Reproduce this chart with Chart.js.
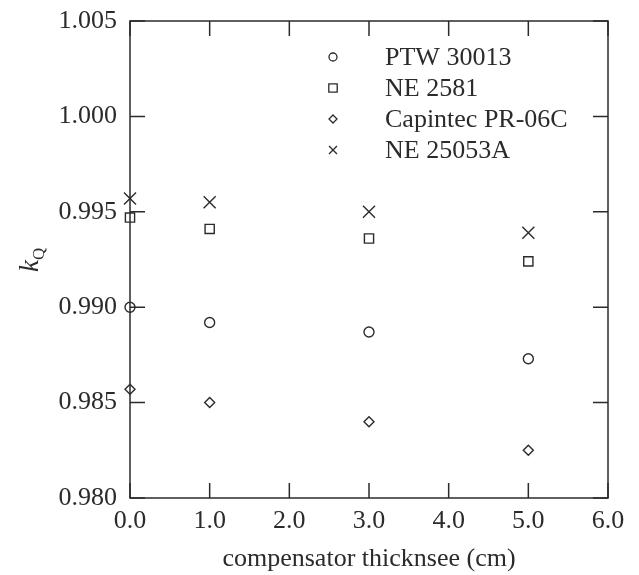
<!DOCTYPE html>
<html>
<head>
<meta charset="utf-8">
<script src="https://cdn.jsdelivr.net/npm/chart.js@4.4.1/dist/chart.umd.min.js"></script>
<style>
  html, body { margin: 0; padding: 0; background: #fff; }
  #wrap { width: 639px; height: 575px; }
</style>
</head>
<body>
<div id="wrap"><canvas id="kqChart" width="639" height="575"></canvas></div>
<script>
// data
const thickness = [0, 1, 3, 5];
const ptw30013 = [0.9900, 0.9892, 0.9887, 0.9873];
const ne2581 = [0.9947, 0.9941, 0.9936, 0.9924];
const capintec = [0.9857, 0.9850, 0.9840, 0.9825];
const ne25053a = [0.9957, 0.9955, 0.9950, 0.9939];

const seriesNames = ['PTW 30013', 'NE 2581', 'Capintec PR-06C', 'NE 25053A'];
const xTicks = [0, 1, 2, 3, 4, 5, 6];
const yTicks = [0.980, 0.985, 0.990, 0.995, 1.000, 1.005];

const ink = '#2b2b2b';
const serif = "'Liberation Serif', 'DejaVu Serif', serif";

function pts(ys) {
  return thickness.map((x, i) => ({ x: x, y: ys[i] }));
}

const styles = [
  { pointStyle: 'circle', radius: 5 },
  { pointStyle: 'rect', radius: 6.5 },
  { pointStyle: 'rectRot', radius: 5 },
  { pointStyle: 'crossRot', radius: 8.5 }
];
const allSeries = [ptw30013, ne2581, capintec, ne25053a];

// small marker drawer for the in-plot legend
function marker(ctx, style, x, y, r) {
  ctx.beginPath();
  if (style === 'circle') {
    ctx.arc(x, y, r, 0, Math.PI * 2);
  } else if (style === 'rect') {
    ctx.rect(x - r, y - r, 2 * r, 2 * r);
  } else if (style === 'rectRot') {
    ctx.moveTo(x, y - r); ctx.lineTo(x + r, y); ctx.lineTo(x, y + r); ctx.lineTo(x - r, y); ctx.closePath();
  } else {
    ctx.moveTo(x - r, y - r); ctx.lineTo(x + r, y + r);
    ctx.moveTo(x + r, y - r); ctx.lineTo(x - r, y + r);
  }
  ctx.stroke();
}

const framePlugin = {
  id: 'frame',
  beforeDatasetsDraw(chart) {
    const { ctx, chartArea: a, scales } = chart;
    const tl = 15;
    ctx.save();
    ctx.strokeStyle = ink;
    ctx.lineWidth = 1.5;
    ctx.strokeRect(a.left, a.top, a.right - a.left, a.bottom - a.top);
    ctx.beginPath();
    xTicks.forEach(v => {
      const px = scales.x.getPixelForValue(v);
      ctx.moveTo(px, a.bottom); ctx.lineTo(px, a.bottom - tl);
      ctx.moveTo(px, a.top); ctx.lineTo(px, a.top + tl);
    });
    yTicks.forEach(v => {
      const py = scales.y.getPixelForValue(v);
      ctx.moveTo(a.left, py); ctx.lineTo(a.left + tl, py);
      ctx.moveTo(a.right, py); ctx.lineTo(a.right - tl, py);
    });
    ctx.stroke();
    ctx.restore();
  },
  afterDraw(chart) {
    const { ctx } = chart;
    ctx.save();
    // legend inside the plot
    ctx.strokeStyle = ink;
    ctx.fillStyle = ink;
    ctx.lineWidth = 1.3;
    ctx.font = '26px ' + serif;
    ctx.textBaseline = 'middle';
    ctx.textAlign = 'left';
    const rows = [57, 88, 119, 150];
    const sizes = [4, 4.2, 4, 4];
    seriesNames.forEach((name, i) => {
      marker(ctx, styles[i].pointStyle, 333, rows[i], sizes[i]);
      ctx.fillText(name, 385, rows[i] + 1);
    });
    // y axis title k_Q
    ctx.translate(38, 262);
    ctx.rotate(-Math.PI / 2);
    ctx.font = 'italic 27px ' + serif;
    ctx.textAlign = 'left';
    ctx.textBaseline = 'alphabetic';
    ctx.fillText('k', -10, 0);
    const kw = ctx.measureText('k').width;
    ctx.font = '17px ' + serif;
    ctx.fillText('Q', -10 + kw, 6);
    ctx.restore();
  }
};

new Chart(document.getElementById('kqChart').getContext('2d'), {
  type: 'scatter',
  data: {
    datasets: allSeries.map((ys, i) => ({
      label: seriesNames[i],
      data: pts(ys),
      pointStyle: styles[i].pointStyle,
      pointRadius: styles[i].radius,
      pointHoverRadius: styles[i].radius,
      pointBorderColor: ink,
      pointBackgroundColor: 'rgba(0,0,0,0)',
      pointBorderWidth: 1.4,
      showLine: false,
      clip: false
    }))
  },
  options: {
    responsive: false,
    animation: false,
    events: [],
    layout: { padding: { top: 21, right: 31, left: 0, bottom: 0 } },
    plugins: {
      legend: { display: false },
      tooltip: { enabled: false }
    },
    scales: {
      x: {
        type: 'linear',
        min: 0,
        max: 6,
        afterBuildTicks: s => { s.ticks = xTicks.map(v => ({ value: v })); },
        afterFit: s => { s.height = 77; s.paddingLeft = 0; s.paddingRight = 0; },
        grid: { display: false, drawTicks: false },
        border: { display: false },
        ticks: {
          padding: 8,
          color: ink,
          font: { family: serif, size: 26 },
          maxRotation: 0,
          callback: v => Number(v).toFixed(1)
        },
        title: {
          display: true,
          text: 'compensator thicknsee (cm)',
          color: ink,
          font: { family: serif, size: 26 },
          padding: { top: 3, bottom: 0 }
        }
      },
      y: {
        type: 'linear',
        min: 0.980,
        max: 1.005,
        afterBuildTicks: s => { s.ticks = yTicks.map(v => ({ value: v })); },
        afterFit: s => { s.width = 130; s.paddingTop = 0; s.paddingBottom = 0; },
        grid: { display: false, drawTicks: false },
        border: { display: false },
        ticks: {
          padding: 13,
          color: ink,
          font: { family: serif, size: 26 },
          callback: v => Number(v).toFixed(3)
        }
      }
    }
  },
  plugins: [framePlugin]
});
</script>
</body>
</html>
